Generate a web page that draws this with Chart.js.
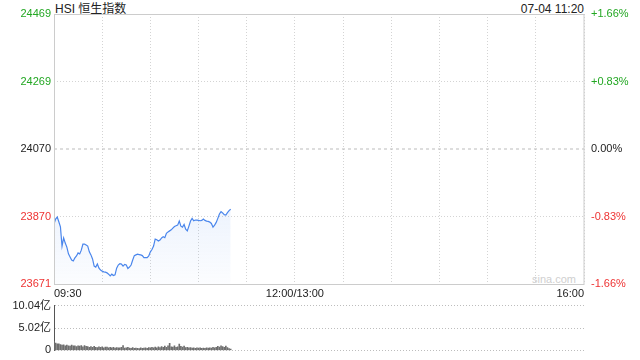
<!DOCTYPE html>
<html><head><meta charset="utf-8">
<script src="https://cdn.jsdelivr.net/npm/chart.js@4.4.1/dist/chart.umd.min.js"></script>
<style>
html,body{margin:0;padding:0;background:#fff;width:640px;height:360px;overflow:hidden;font-family:"Liberation Sans",Arial,"Noto Sans CJK SC",sans-serif;}
#c1{position:absolute;left:0;top:0;}
#c2{position:absolute;left:0;top:296px;}
.t{position:absolute;font-size:12px;line-height:14px;color:#222;white-space:nowrap;}
</style></head><body>
<div class="t" style="left:55px;top:2px;">HSI 恒生指数</div>
<div class="t" style="right:56px;top:2px;">07-04 11:20</div>
<div class="t" style="left:532px;top:272px;font-size:11px;color:#cfcfcf;">sina.com</div>
<canvas id="c1" width="640" height="300"></canvas>
<canvas id="c2" width="640" height="64"></canvas>
<script>
const prevClose = 24070;
const priceTicks = [24469, 24269, 24070, 23870, 23671];
const pctLabels = ['+1.66%', '+0.83%', '0.00%', '-0.83%', '-1.66%'];
const gridMinutes = [0, 30, 60, 90, 120, 150, 180, 210, 240, 270, 300, 330];
const xTickMinutes = [0, 150, 330];
const xTickLabels = ['09:30', '12:00/13:00', '16:00'];
const volTicks = [0, 5.02, 10.04];
const volLabels = ['0', '5.02亿', '10.04亿'];

const prices = [
23848,23863,23869,23855,23840,23783,23807,23792,23780,23760,
23751,23742,23739,23748,23754,23763,23760,23771,23789,23789,
23786,23783,23766,23757,23745,23724,23721,23730,23718,23712,
23709,23707,23706,23704,23700,23695,23700,23696,23698,23718,
23727,23731,23730,23724,23729,23727,23717,23721,23727,23742,
23755,23757,23759,23758,23757,23755,23749,23749,23749,23754,
23766,23773,23783,23804,23802,23798,23801,23807,23811,23808,
23821,23825,23828,23831,23836,23841,23843,23845,23857,23842,
23839,23847,23833,23828,23842,23857,23865,23858,23860,23860,
23859,23858,23859,23863,23859,23857,23856,23854,23850,23839,
23845,23853,23865,23878,23885,23881,23876,23875,23882,23888,
23892];

const volumes = [
2.05,1.62,1.50,1.45,1.30,1.22,1.25,1.02,1.20,1.05,
0.95,1.18,1.00,1.05,0.85,1.00,0.95,1.08,0.80,1.10,
0.90,0.85,0.70,0.88,0.66,0.92,0.70,0.62,0.82,0.66,
0.80,0.60,0.72,0.76,0.56,0.70,0.60,0.66,0.52,0.62,
0.58,0.60,0.70,1.10,0.52,0.56,0.66,0.50,0.45,0.62,
0.45,0.50,0.46,0.42,0.58,0.45,0.50,0.60,0.48,0.62,
0.55,0.70,0.58,0.75,0.60,0.80,0.62,0.85,0.70,0.95,
0.70,1.05,1.60,0.80,0.75,1.00,0.70,0.82,1.40,0.90,
0.75,0.95,0.62,0.70,0.55,0.62,0.50,0.58,0.48,0.55,
0.50,0.58,0.45,0.52,0.48,0.56,0.50,0.60,0.52,0.66,
0.56,0.70,0.90,0.75,1.00,0.85,0.70,0.95,0.62,0.40,0.30];

const FONT = {family: '"Liberation Sans", Arial, "Noto Sans CJK SC", sans-serif', size: 11};
const GREEN = '#22a722', RED = '#ee3333';
function priceColor(v){ return v > prevClose + 0.5 ? GREEN : (v < prevClose - 0.5 ? RED : '#222'); }

const framePlugin = {
  id: 'frame',
  afterDraw(chart, args, opts) {
    if (!opts.draw) return;
    const a = chart.chartArea, ctx = chart.ctx;
    ctx.save();
    ctx.strokeStyle = '#cccccc';
    ctx.lineWidth = 1;
    ctx.strokeRect(Math.round(a.left) + 0.5, Math.round(a.top) + 0.5, Math.round(a.right - a.left) - 0.5, Math.round(a.bottom - a.top));
    ctx.restore();
  }
};

const minutes = prices.map((_, i) => i);

new Chart(document.getElementById('c1'), {
  type: 'line',
  data: {
    datasets: [
      {
        data: prices.map((v, i) => ({x: minutes[i], y: v})),
        borderColor: '#4a86ec',
        borderWidth: 1.2,
        pointRadius: 0,
        tension: 0,
        fill: 'start',
        backgroundColor: (ctx) => {
          const a = ctx.chart.chartArea;
          if (!a) return 'rgba(74,134,236,0.05)';
          const g = ctx.chart.ctx.createLinearGradient(0, a.top + 190, 0, a.bottom);
          g.addColorStop(0, 'rgba(74,134,236,0.10)');
          g.addColorStop(1, 'rgba(74,134,236,0.02)');
          return g;
        }
      },
      {
        data: [{x: gridMinutes[0], y: prevClose}, {x: gridMinutes[gridMinutes.length - 1], y: prevClose}],
        borderColor: '#bbbbbb',
        borderWidth: 1,
        borderDash: [3, 3],
        pointRadius: 0,
        fill: false
      }
    ]
  },
  options: {
    responsive: false,
    animation: false,
    events: [],
    layout: {padding: {top: 14, left: 0, right: 0, bottom: 0}},
    plugins: {legend: {display: false}, tooltip: {enabled: false}, frame: {draw: true}},
    scales: {
      x: {
        type: 'linear',
        min: gridMinutes[0],
        max: gridMinutes[gridMinutes.length - 1],
        afterBuildTicks: (s) => { s.ticks = gridMinutes.map(v => ({value: v})); },
        afterFit: (s) => { s.height = 16; },
        grid: {color: '#d4d4d4', drawTicks: false, lineWidth: 1},
        border: {display: false, dash: [1, 2]},
        ticks: {
          autoSkip: false, maxRotation: 0, align: 'inner', padding: 3,
          color: '#222', font: FONT,
          callback: (v) => { const k = xTickMinutes.indexOf(v); return k >= 0 ? xTickLabels[k] : ''; }
        }
      },
      y: {
        position: 'left',
        min: priceTicks[priceTicks.length - 1],
        max: priceTicks[0],
        afterBuildTicks: (s) => { s.ticks = priceTicks.map(v => ({value: v})); },
        afterFit: (s) => { s.width = 54; },
        grid: {color: (c) => (c.tick && c.tick.value === prevClose) ? 'rgba(0,0,0,0)' : '#d4d4d4', drawTicks: false},
        border: {display: false, dash: [1, 2]},
        ticks: {
          padding: 3, font: FONT,
          color: (c) => priceColor(c.tick.value),
          callback: (v) => String(v)
        }
      },
      y2: {
        position: 'right',
        min: priceTicks[priceTicks.length - 1],
        max: priceTicks[0],
        afterBuildTicks: (s) => { s.ticks = priceTicks.map(v => ({value: v})); },
        afterFit: (s) => { s.width = 56; },
        grid: {display: false, drawTicks: false},
        border: {display: false},
        ticks: {
          padding: 7, font: FONT,
          color: (c) => priceColor(c.tick.value),
          callback: (v) => { const k = priceTicks.indexOf(v); return k >= 0 ? pctLabels[k] : ''; }
        }
      }
    }
  },
  plugins: [framePlugin]
});

new Chart(document.getElementById('c2'), {
  type: 'bar',
  data: {
    datasets: [{
      data: volumes.map((v, i) => ({x: minutes[i], y: v})),
      backgroundColor: '#6e6e6e',
      barThickness: 1,
      borderWidth: 0
    }]
  },
  options: {
    responsive: false,
    animation: false,
    events: [],
    layout: {padding: {top: 9, left: 0, right: 56, bottom: 6}},
    plugins: {legend: {display: false}, tooltip: {enabled: false}, frame: {draw: false}},
    scales: {
      x: {
        type: 'linear',
        offset: false,
        min: gridMinutes[0],
        max: gridMinutes[gridMinutes.length - 1],
        display: false
      },
      y: {
        position: 'left',
        min: volTicks[0],
        max: volTicks[volTicks.length - 1],
        afterBuildTicks: (s) => { s.ticks = volTicks.map(v => ({value: v})); },
        afterFit: (s) => { s.width = 54; },
        grid: {color: '#bdbdbd', drawTicks: false},
        border: {display: true, color: '#555555', width: 1, dash: [1, 2]},
        ticks: {
          padding: 3, font: FONT, color: '#222',
          callback: (v) => { const k = volTicks.indexOf(v); return k >= 0 ? volLabels[k] : ''; }
        }
      }
    }
  }
});
</script>
</body></html>
